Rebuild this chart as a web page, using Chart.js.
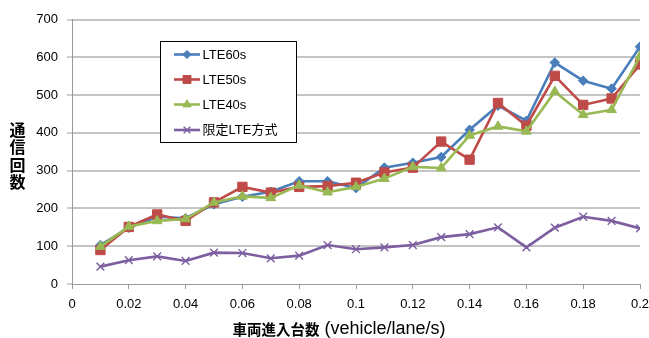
<!DOCTYPE html>
<html>
<head>
<meta charset="utf-8">
<script src="https://cdn.jsdelivr.net/npm/chart.js@4.4.1/dist/chart.umd.min.js"></script>
<style>
  html, body { margin: 0; padding: 0; background: #ffffff; }
  #wrap { width: 649px; height: 338px; position: relative; }
</style>
</head>
<body>
<div id="wrap"><canvas id="c" width="649" height="338"></canvas></div>
<script>
// Vehicle arrival rate (vehicle/lane/s)
const arrivalRates = [0.01, 0.02, 0.03, 0.04, 0.05, 0.06, 0.07, 0.08, 0.09, 0.10,
                      0.11, 0.12, 0.13, 0.14, 0.15, 0.16, 0.17, 0.18, 0.19, 0.20];

// Number of communications per scheme
const lte60s = [103, 149, 178, 174, 211, 231, 244, 272, 272, 254,
                308, 321, 336, 408, 472, 432, 586, 538, 517, 628];
const lte50s = [90, 151, 184, 167, 216, 257, 242, 257, 259, 268,
                295, 308, 377, 329, 479, 419, 551, 474, 491, 581];
const lte40s = [99, 152, 167, 172, 216, 232, 228, 261, 243, 257,
                279, 310, 307, 393, 417, 404, 509, 448, 461, 603];
const limitedLte = [46, 63, 73, 61, 83, 82, 68, 75, 103, 92,
                    97, 103, 124, 132, 150, 97, 149, 178, 167, 147];

const seriesNames = ['LTE60s', 'LTE50s', 'LTE40s', '限定LTE方式'];

// Axis tick labels
const xTickValues = [0, 0.02, 0.04, 0.06, 0.08, 0.1, 0.12, 0.14, 0.16, 0.18, 0.2];
const xTickLabels = ['0', '0.02', '0.04', '0.06', '0.08', '0.1', '0.12', '0.14', '0.16', '0.18', '0.2'];
const yTickValues = [0, 100, 200, 300, 400, 500, 600, 700];

const xTitleJa = '車両進入台数';
const xTitleEn = ' (vehicle/lane/s)';
const yTitle = '通信回数';

const toPoints = (vals) => vals.map((v, i) => ({ x: arrivalRates[i], y: v }));

const styles = [
  { color: '#4a7ebb', pointStyle: 'rectRot', radius: 4.8, order: 4 },
  { color: '#be4b48', pointStyle: 'rect', radius: 6.6, order: 3 },
  { color: '#98b954', pointStyle: 'triangle', radius: 5.6, order: 2 },
  { color: '#7d5fa0', pointStyle: 'crossRot', radius: 5.5, order: 1 }
];
const values = [lte60s, lte50s, lte40s, limitedLte];

const datasets = values.map((vals, i) => ({
  label: seriesNames[i],
  data: toPoints(vals),
  borderColor: styles[i].color,
  backgroundColor: styles[i].color,
  pointBackgroundColor: styles[i].color,
  pointBorderColor: styles[i].color,
  pointStyle: styles[i].pointStyle,
  pointRadius: styles[i].radius,
  pointBorderWidth: i === 3 ? 1.4 : 1,
  borderWidth: 2.6,
  tension: 0,
  order: styles[i].order
}));

const TICK_FONT = { family: '"Liberation Sans", "Noto Sans CJK JP", sans-serif', size: 13 };

// Legend box and axis titles drawn on the canvas
const decorations = {
  id: 'decorations',
  afterDraw(chart) {
    const ctx = chart.ctx;
    ctx.save();

    // legend
    const bx = 160.5, by = 41.5, bw = 136, bh = 101;
    ctx.fillStyle = '#ffffff';
    ctx.fillRect(bx, by, bw, bh);
    ctx.strokeStyle = '#000000';
    ctx.lineWidth = 1;
    ctx.strokeRect(bx, by, bw, bh);
    const rowsY = [54.5, 79.5, 104.5, 130];
    chart.data.datasets.forEach((ds, i) => {
      const y = rowsY[i];
      ctx.strokeStyle = ds.borderColor;
      ctx.lineWidth = 2.6;
      ctx.beginPath();
      ctx.moveTo(174, y);
      ctx.lineTo(200, y);
      ctx.stroke();
      ctx.fillStyle = ds.pointBackgroundColor;
      ctx.strokeStyle = ds.pointBorderColor;
      ctx.lineWidth = ds.pointBorderWidth;
      Chart.helpers.drawPoint(ctx, { pointStyle: ds.pointStyle, radius: ds.pointRadius * 0.85, rotation: 0, borderWidth: ds.pointBorderWidth }, 187, y);
      ctx.fillStyle = '#000000';
      ctx.font = '13px "Liberation Sans", "Noto Sans CJK JP", sans-serif';
      ctx.textAlign = 'left';
      ctx.textBaseline = 'middle';
      ctx.fillText(ds.label, 202.5, y + 0.5);
    });

    // y axis title, characters stacked vertically
    ctx.fillStyle = '#000000';
    ctx.font = 'bold 16px "Noto Sans CJK JP", sans-serif';
    ctx.textAlign = 'center';
    ctx.textBaseline = 'middle';
    [...yTitle].forEach((ch, i) => {
      ctx.fillText(ch, 17.5, 130 + i * 17.3);
    });

    // x axis title
    const jaFont = 'bold 14.5px "Noto Sans CJK JP", sans-serif';
    const enFont = '18px "Liberation Sans", sans-serif';
    ctx.font = jaFont;
    const wJa = ctx.measureText(xTitleJa).width;
    ctx.font = enFont;
    const wEn = ctx.measureText(xTitleEn).width;
    const x0 = 339 - (wJa + wEn) / 2;
    const ty = 329;
    ctx.textAlign = 'left';
    ctx.textBaseline = 'middle';
    ctx.font = jaFont;
    ctx.fillText(xTitleJa, x0, ty);
    ctx.font = enFont;
    ctx.fillText(xTitleEn, x0 + wJa, ty);

    ctx.restore();
  }
};

new Chart(document.getElementById('c'), {
  type: 'line',
  data: { datasets },
  options: {
    responsive: false,
    animation: false,
    devicePixelRatio: 1,
    layout: { padding: { top: 19.5, right: 0, left: 0, bottom: 0 } },
    plugins: {
      legend: { display: false },
      tooltip: { enabled: false }
    },
    scales: {
      x: {
        type: 'linear',
        min: 0,
        max: 0.2,
        afterBuildTicks(scale) {
          scale.ticks = xTickValues.map(v => ({ value: v }));
        },
        afterFit(scale) {
          scale.height = 54;
          scale.paddingRight = 9;
        },
        ticks: {
          color: '#000000',
          font: TICK_FONT,
          padding: 8,
          maxRotation: 0,
          autoSkip: false,
          callback: (v, i) => xTickLabels[i]
        },
        grid: {
          drawOnChartArea: false,
          drawTicks: true,
          tickLength: 5,
          tickColor: '#9a9a9a',
          tickWidth: 1
        },
        border: { color: '#9a9a9a', width: 1 }
      },
      y: {
        min: 0,
        max: 700,
        afterBuildTicks(scale) {
          scale.ticks = yTickValues.map(v => ({ value: v }));
        },
        afterFit(scale) { scale.width = 72; },
        ticks: {
          color: '#000000',
          font: TICK_FONT,
          padding: 9
        },
        grid: {
          color: (c) => c.tick && c.tick.value === 0 ? 'rgba(0,0,0,0)' : '#c4c4c4',
          lineWidth: 2,
          drawTicks: true,
          tickLength: 5,
          tickColor: '#9a9a9a',
          tickWidth: 1
        },
        border: { color: '#9a9a9a', width: 1 }
      }
    }
  },
  plugins: [decorations]
});
</script>
</body>
</html>
